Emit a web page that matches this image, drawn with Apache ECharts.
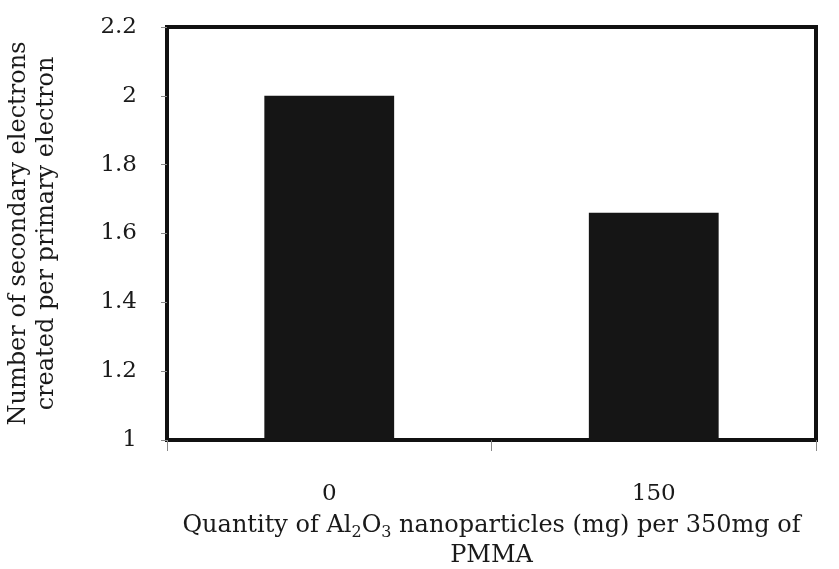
<!DOCTYPE html>
<html>
<head>
<meta charset="utf-8">
<style>
  html, body { margin: 0; padding: 0; background: #fff; }
  #chart { width: 839px; height: 569px; }
</style>
<script src="https://cdn.jsdelivr.net/npm/echarts@6/dist/echarts.min.js"></script>
</head>
<body>
<div id="chart"></div>
<script>
// Al2O3 loading (mg per 350 mg PMMA) and secondary electron yield
const categories = ['0', '150'];
const secondaryElectrons = [2.0, 1.66];
const yTicks = { min: 1, max: 2.2, interval: 0.2 };

const FONT = '"DejaVu Serif", serif';
const chart = echarts.init(document.getElementById('chart'));

chart.setOption({
  animation: false,
  backgroundColor: '#fff',
  grid: {
    left: 167, right: 23, top: 27, bottom: 129,
    outerBoundsMode: 'none',
    containLabel: false,
    show: true, borderColor: '#111', borderWidth: 4, backgroundColor: 'transparent'
  },
  xAxis: {
    type: 'category',
    data: categories,
    boundaryGap: true,
    axisLine: { show: true, lineStyle: { color: '#111', width: 4 } },
    axisTick: { show: true, length: 11, alignWithLabel: false, lineStyle: { color: '#888', width: 1 } },
    axisLabel: { margin: 43, fontFamily: FONT, fontSize: 23, color: '#1a1a1a' },
    name: '{t|Quantity of Al}{s|2}{t|O}{s|3}{t| nanoparticles (mg) per 350mg of}\n{t|PMMA}',
    nameLocation: 'middle',
    nameGap: 70,
    nameTextStyle: {
      fontFamily: FONT, fontSize: 24, color: '#1a1a1a', lineHeight: 30,
      rich: {
        t: { fontFamily: FONT, fontSize: 24, color: '#1a1a1a', lineHeight: 30 },
        s: { fontFamily: FONT, fontSize: 16, color: '#1a1a1a', lineHeight: 30, verticalAlign: 'bottom', padding: [9, 0, 0, 0] }
      }
    }
  },
  yAxis: {
    type: 'value',
    min: yTicks.min, max: yTicks.max, interval: yTicks.interval,
    splitLine: { show: false },
    axisLine: { show: true, lineStyle: { color: '#111', width: 4 } },
    axisTick: { show: true, length: 6, lineStyle: { color: '#888', width: 1 } },
    axisLabel: { margin: 30, fontFamily: FONT, fontSize: 23, color: '#1a1a1a' },
    name: 'Number of secondary electrons\ncreated per primary electron',
    nameLocation: 'middle',
    nameGap: 106,
    nameTextStyle: { fontFamily: FONT, fontSize: 24, color: '#1a1a1a', lineHeight: 28 }
  },
  series: [{
    type: 'bar',
    data: secondaryElectrons,
    barWidth: '40%',
    itemStyle: { color: '#151515' }
  }]
});
</script>
</body>
</html>
